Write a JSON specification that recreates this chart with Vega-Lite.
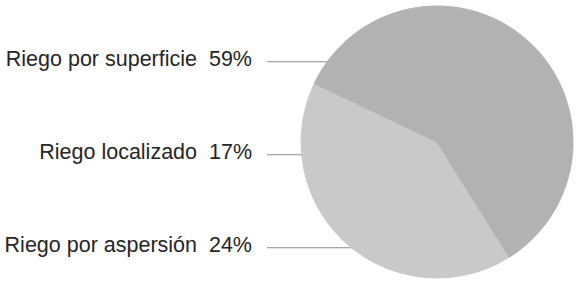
{
  "$schema": "https://vega.github.io/schema/vega-lite/v6.json",
  "background": "white",
  "padding": 0,
  "spacing": 49,
  "bounds": "flush",
  "config": {"view": {"stroke": null}},
  "datasets": {
    "riego": [
      {"etiqueta": "Riego por aspersión", "pct": 24, "orden": 1},
      {"etiqueta": "Riego localizado", "pct": 17, "orden": 2},
      {"etiqueta": "Riego por superficie", "pct": 59, "orden": 3}
    ]
  },
  "hconcat": [
    {
      "width": 252,
      "height": 284,
      "data": {"name": "riego"},
      "transform": [{"calculate": "datum.etiqueta + ' \u00a0' + datum.pct + '%'", "as": "texto"}],
      "encoding": {
        "y": {
          "field": "etiqueta",
          "type": "nominal",
          "sort": ["Riego por superficie", "Riego localizado", "Riego por aspersión"],
          "scale": {"type": "point", "padding": 0.527, "align": 0.63},
          "axis": null
        }
      },
      "layer": [
        {
          "mark": {"type": "rule", "x": 267, "x2": 442, "color": "#8c8c8c", "strokeWidth": 1}
        },
        {
          "mark": {"type": "text", "x": "width", "align": "right", "baseline": "alphabetic", "dy": 4, "font": "Liberation Sans", "fontSize": 21.5, "color": "#262626"},
          "encoding": {"text": {"field": "texto", "type": "nominal"}}
        }
      ]
    },
    {
      "width": 272,
      "height": 284,
      "data": {"name": "riego"},
      "mark": {"type": "arc", "strokeWidth": 1},
      "encoding": {
        "theta": {"field": "pct", "type": "quantitative", "stack": true, "scale": {"range": [2.581, 8.8642]}},
        "order": {"field": "orden", "type": "quantitative"},
        "color": {
          "field": "etiqueta",
          "type": "nominal",
          "scale": {"domain": ["Riego por aspersión", "Riego localizado", "Riego por superficie"], "range": ["#c9c9c9", "#c9c9c9", "#b2b2b2"]},
          "legend": null
        },
        "stroke": {
          "field": "etiqueta",
          "type": "nominal",
          "scale": {"domain": ["Riego por aspersión", "Riego localizado", "Riego por superficie"], "range": ["#c9c9c9", "#c9c9c9", "#b2b2b2"]},
          "legend": null
        }
      }
    }
  ]
}
